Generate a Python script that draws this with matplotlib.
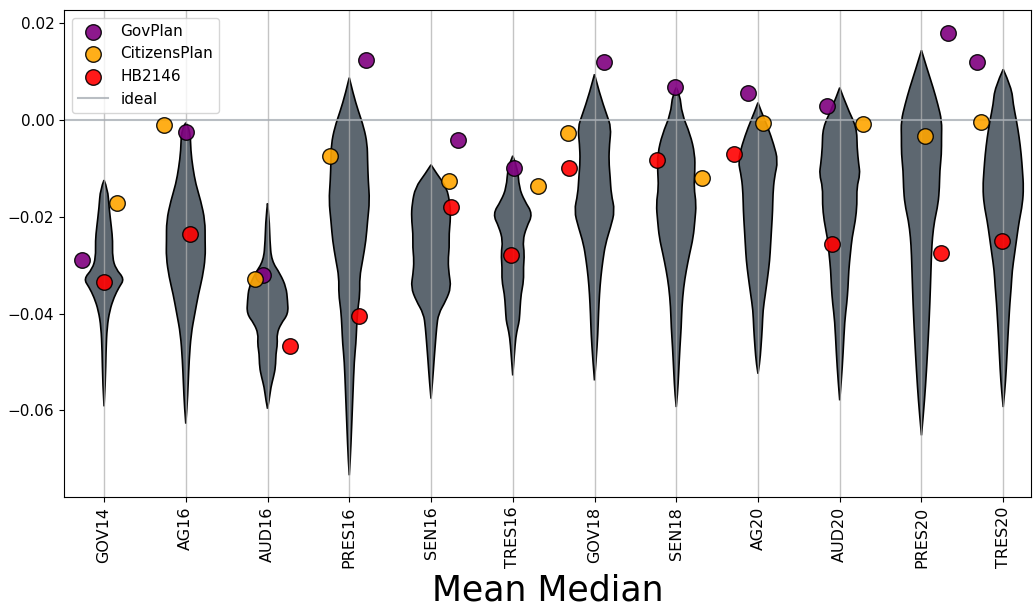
import matplotlib
matplotlib.use("Agg")
import matplotlib.pyplot as plt
from matplotlib.path import Path
from matplotlib.patches import PathPatch

categories = ["GOV14", "AG16", "AUD16", "PRES16", "SEN16", "TRES16",
              "GOV18", "SEN18", "AG20", "AUD20", "PRES20", "TRES20"]

gov_vals = [-0.0289, -0.0025, -0.0321, 0.0124, -0.0041, -0.0100,
            0.01195, 0.0068, 0.0055, 0.0029, 0.0180, 0.01195]
cit_vals = [-0.0171, -0.0010, -0.0329, -0.0075, -0.0127, -0.0137,
            -0.0027, -0.0120, -0.0006, -0.0008, -0.0033, -0.0004]
hb_vals = [-0.0334, -0.0235, -0.0467, -0.0406, -0.0179, -0.0280,
           -0.0100, -0.0082, -0.0071, -0.0256, -0.0275, -0.0251]

# horizontal jitter of the points (category units)
gov_dx = [-0.27, 0.00, -0.05, 0.20, 0.33, 0.02, 0.12, -0.01, -0.12, -0.15, 0.32, -0.32]
cit_dx = [0.16, -0.27, -0.15, -0.24, 0.22, 0.31, -0.33, 0.32, 0.06, 0.29, 0.04, -0.27]
hb_dx = [0.00, 0.05, 0.28, 0.12, 0.24, -0.02, -0.31, -0.23, -0.29, -0.09, 0.24, -0.01]

# violin outlines: y levels and half-widths (category units)
violin_y = [
    [-0.01244, -0.01430, -0.01808, -0.02220, -0.02495, -0.02839, -0.03079, -0.03285, -0.03458,
     -0.03664, -0.03938, -0.04282, -0.04763, -0.05450, -0.05918],
    [-0.0006, -0.00192, -0.00639, -0.00983, -0.01326, -0.01670, -0.02083, -0.02495, -0.02839,
     -0.03251, -0.03595, -0.04007, -0.04420, -0.04969, -0.05450, -0.05932, -0.06275],
    [-0.01725, -0.02014, -0.02495, -0.02907, -0.03182, -0.03458, -0.03732, -0.04007, -0.04213,
     -0.04420, -0.04626, -0.04832, -0.05107, -0.05313, -0.05520, -0.05794, -0.05966],
    [0.00872, 0.00530, 0.00186, -0.00159, -0.00501, -0.00845, -0.01258, -0.01670, -0.02083,
     -0.02495, -0.02907, -0.03252, -0.03595, -0.03938, -0.04283, -0.04625, -0.04969, -0.05656,
     -0.06345, -0.07031, -0.07341],
    [-0.00928, -0.01120, -0.01396, -0.01738, -0.02015, -0.02357, -0.02633, -0.02907, -0.03182,
     -0.03458, -0.03732, -0.04007, -0.04283, -0.04625, -0.04969, -0.05382, -0.05759],
    [-0.00742, -0.00983, -0.01396, -0.01670, -0.01944, -0.02220, -0.02495, -0.02769, -0.03045,
     -0.03320, -0.03595, -0.03870, -0.04145, -0.04283, -0.04489, -0.04832, -0.05279],
    [0.00942, 0.00530, 0.00118, -0.00159, -0.00501, -0.00845, -0.01190, -0.01532, -0.01876,
     -0.02220, -0.02563, -0.02907, -0.03252, -0.03595, -0.04007, -0.04420, -0.04969, -0.05382],
    [0.00666, 0.00530, 0.00118, -0.00295, -0.00707, -0.01052, -0.01396, -0.01738, -0.02083,
     -0.02427, -0.02769, -0.03114, -0.03458, -0.03870, -0.04283, -0.04695, -0.05244, -0.05656,
     -0.05932],
    [0.00357, 0.00186, -0.00159, -0.00501, -0.00845, -0.01190, -0.01532, -0.01876, -0.02220,
     -0.02563, -0.02907, -0.03252, -0.03595, -0.03938, -0.04283, -0.04695, -0.05038, -0.05244],
    [0.00666, 0.00254, -0.00159, -0.00571, -0.00914, -0.01120, -0.01396, -0.01738, -0.02083,
     -0.02427, -0.02769, -0.03114, -0.03458, -0.03800, -0.04145, -0.04832, -0.05382, -0.05794],
    [0.01437, 0.01010, 0.00666, 0.00324, -0.00021, -0.00365, -0.00707, -0.01052, -0.01396,
     -0.01738, -0.02083, -0.02427, -0.02769, -0.03458, -0.04145, -0.04832, -0.05520, -0.06069,
     -0.06516],
    [0.01045, 0.00666, 0.00324, -0.00021, -0.00365, -0.00707, -0.01052, -0.01396, -0.01738,
     -0.02083, -0.02427, -0.02769, -0.03114, -0.03458, -0.03800, -0.04145, -0.04489, -0.05176,
     -0.05588, -0.05932],
]
violin_hw = [
    [0, 0.045, 0.061, 0.090, 0.106, 0.102, 0.143, 0.249, 0.183, 0.122, 0.069, 0.037, 0.024, 0.016, 0],
    [0, 0.053, 0.061, 0.086, 0.122, 0.183, 0.236, 0.236, 0.240, 0.204, 0.155, 0.110, 0.065, 0.041,
     0.029, 0.016, 0],
    [0, 0.020, 0.029, 0.049, 0.155, 0.228, 0.245, 0.253, 0.163, 0.114, 0.122, 0.102, 0.098, 0.073,
     0.041, 0.020, 0],
    [0, 0.049, 0.110, 0.179, 0.220, 0.224, 0.232, 0.249, 0.224, 0.204, 0.163, 0.126, 0.130, 0.102,
     0.090, 0.081, 0.061, 0.045, 0.029, 0.012, 0],
    [0, 0.073, 0.192, 0.232, 0.240, 0.220, 0.224, 0.208, 0.220, 0.245, 0.183, 0.090, 0.069, 0.053,
     0.037, 0.020, 0],
    [0, 0.061, 0.077, 0.143, 0.245, 0.167, 0.122, 0.143, 0.130, 0.134, 0.102, 0.090, 0.081, 0.061,
     0.037, 0.020, 0],
    [0, 0.065, 0.147, 0.204, 0.183, 0.175, 0.192, 0.204, 0.249, 0.196, 0.134, 0.102, 0.077, 0.061,
     0.049, 0.041, 0.020, 0],
    [0, 0.045, 0.069, 0.171, 0.228, 0.228, 0.216, 0.245, 0.228, 0.208, 0.163, 0.122, 0.090, 0.069,
     0.061, 0.045, 0.029, 0.016, 0],
    [0, 0.037, 0.122, 0.192, 0.245, 0.200, 0.183, 0.179, 0.167, 0.155, 0.143, 0.118, 0.090, 0.061,
     0.053, 0.037, 0.020, 0],
    [0, 0.090, 0.208, 0.212, 0.232, 0.249, 0.208, 0.212, 0.192, 0.151, 0.130, 0.110, 0.102, 0.086,
     0.061, 0.041, 0.020, 0],
    [0, 0.077, 0.143, 0.200, 0.249, 0.245, 0.245, 0.224, 0.220, 0.204, 0.159, 0.134, 0.122, 0.110,
     0.094, 0.073, 0.049, 0.024, 0],
    [0, 0.102, 0.122, 0.163, 0.196, 0.220, 0.236, 0.249, 0.236, 0.196, 0.167, 0.139, 0.110, 0.098,
     0.081, 0.069, 0.057, 0.037, 0.020, 0],
]

violin_color = "#5d6770"


def smooth_side(pts):
    verts, codes = [], []
    n = len(pts)
    for i in range(1, n - 1):
        ctrl = pts[i]
        if i == n - 2:
            end = pts[i + 1]
        else:
            end = ((pts[i][0] + pts[i + 1][0]) / 2, (pts[i][1] + pts[i + 1][1]) / 2)
        verts += [ctrl, end]
        codes += [Path.CURVE3, Path.CURVE3]
    return verts, codes


def violin_patch(pos, ys, hws):
    right = [(pos + w, y) for y, w in zip(ys, hws)]
    left = [(pos - w, y) for y, w in zip(ys, hws)][::-1]
    verts = [right[0]]
    codes = [Path.MOVETO]
    v, c = smooth_side(right)
    verts += v; codes += c
    v, c = smooth_side(left)
    verts += v; codes += c
    verts.append(right[0]); codes.append(Path.CLOSEPOLY)
    return PathPatch(Path(verts, codes), facecolor=violin_color, edgecolor="black",
                     lw=1.2, zorder=1)


fig = plt.figure(figsize=(10.34, 6.14), dpi=100)
ax = fig.add_axes([64 / 1034, 1 - 497 / 614, (1031 - 64) / 1034, (497 - 10) / 614])

positions = list(range(len(categories)))
for i, pos in enumerate(positions):
    ax.add_patch(violin_patch(pos, violin_y[i], violin_hw[i]))

# vertical grid lines drawn above the violins
for pos in positions:
    ax.axvline(pos, color="#b0b0b0", alpha=0.75, lw=1.0, zorder=1.8)

sc1 = ax.scatter([p + d for p, d in zip(positions, gov_dx)], gov_vals, s=125,
                 color="purple", edgecolors="black", linewidths=1.0, alpha=0.9, zorder=3,
                 label="GovPlan")
sc2 = ax.scatter([p + d for p, d in zip(positions, cit_dx)], cit_vals, s=125,
                 color="orange", edgecolors="black", linewidths=1.0, alpha=0.9, zorder=3,
                 label="CitizensPlan")
sc3 = ax.scatter([p + d for p, d in zip(positions, hb_dx)], hb_vals, s=125,
                 color="red", edgecolors="black", linewidths=1.0, alpha=0.9, zorder=3,
                 label="HB2146")
ln = ax.axhline(0, color="#a8aeb4", alpha=0.8, lw=1.5, zorder=2, label="ideal")

ax.set_xticks(positions)
ax.set_xticklabels(categories, rotation=90, fontsize=11.5)
ax.set_yticks([0.02, 0.0, -0.02, -0.04, -0.06])
ax.tick_params(axis="y", labelsize=11)
ax.set_xlim(-0.49, 11.34)
ax.set_ylim(-0.0779, 0.0227)
ax.set_xlabel("Mean Median", fontsize=25)

ax.legend(handles=[sc1, sc2, sc3, ln], loc="upper left", fontsize=11)

fig.savefig("out.png", dpi=100)
